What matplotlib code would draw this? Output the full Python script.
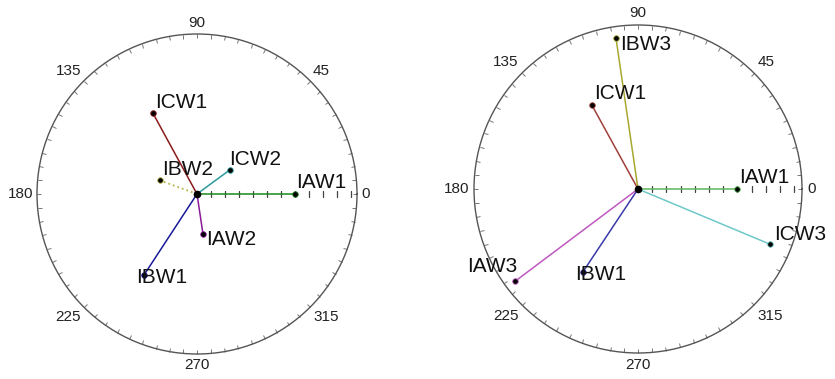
import numpy as np
import matplotlib
matplotlib.use("Agg")
import matplotlib.pyplot as plt

plt.rcParams["font.family"] = ["Liberation Sans", "DejaVu Sans"]

# ---- phasor data: angle in degrees, magnitude in radial-tick units ----
LEFT_NAMES = ["IAW1", "ICW1", "IBW1", "IAW2", "IBW2", "ICW2"]
LEFT_ANGLE = [0.0, 118.6, 236.8, 278.5, 159.9, 36.3]
LEFT_MAG = [7.0, 6.56, 6.91, 2.89, 2.84, 2.89]

RIGHT_NAMES = ["IAW1", "ICW1", "IBW1", "IBW3", "IAW3", "ICW3"]
RIGHT_ANGLE = [0.0, 118.8, 236.4, 98.3, 216.9, 337.3]
RIGHT_MAG = [7.0, 6.72, 6.99, 10.77, 10.8, 10.1]

ANGLE_TICKS = [0, 45, 90, 135, 180, 225, 270, 315]
RADIAL_TICKS = list(range(1, 12))

# ---- styling per phasor ----
LEFT_STYLE = {
    "IAW1": dict(color="#1a8a1a", ls="-", off=(1, 6), ha="left"),
    "ICW1": dict(color="#8b1a1a", ls="-", off=(2, 5), ha="left"),
    "IBW1": dict(color="#1a1a99", ls="-", off=(-8, -8), ha="left"),
    "IAW2": dict(color="#8b1a99", ls="-", off=(3, -11), ha="left"),
    "IBW2": dict(color="#b5b54a", ls=":", off=(2, 5), ha="left"),
    "ICW2": dict(color="#2a9a9a", ls="-", off=(0, 5), ha="left"),
}
RIGHT_STYLE = {
    "IAW1": dict(color="#5cb85c", ls="-", off=(2, 6), ha="left"),
    "ICW1": dict(color="#a0403a", ls="-", off=(2, 6), ha="left"),
    "IBW1": dict(color="#3a3aaa", ls="-", off=(-8, -8), ha="left"),
    "IBW3": dict(color="#a8a830", ls="-", off=(4, -12), ha="left"),
    "IAW3": dict(color="#c058c0", ls="-", off=(2, 9), ha="right"),
    "ICW3": dict(color="#70c8c8", ls="-", off=(4, 4), ha="left"),
}


def phasor_axes(fig, rect, rmax, label_gap):
    ax = fig.add_axes(rect, projection="polar")
    ax.set_rlim(0, rmax)
    ax.grid(False)
    ax.set_yticks([])
    ax.set_xticks(np.deg2rad(ANGLE_TICKS))
    ax.set_xticklabels([])
    ax.set_xticks(np.deg2rad(np.arange(0, 360, 5)), minor=True)
    ax.xaxis.set_tick_params(which="both", tick1On=False, tick2On=True)
    ax.tick_params(axis="x", which="both", direction="in", length=3,
                   width=0.7, color="#777777")
    ax.spines["polar"].set_color("#555555")
    ax.spines["polar"].set_linewidth(1.0)

    # angle labels sit just outside the rim, aligned by their nearest edge
    for a in ANGLE_TICKS:
        c, s = np.cos(np.deg2rad(a)), np.sin(np.deg2rad(a))
        ha = "left" if c > 0.3 else ("right" if c < -0.3 else "center")
        va = "bottom" if s > 0.3 else ("top" if s < -0.3 else "center")
        ax.annotate(str(a), (np.deg2rad(a), rmax),
                    xytext=(label_gap * c, label_gap * s),
                    textcoords="offset pixels", ha=ha, va=va,
                    fontsize=11, color="#222222", annotation_clip=False)

    # radial scale ticks along the 0 deg direction
    ax.plot(np.zeros(len(RADIAL_TICKS)), RADIAL_TICKS, ls="none", marker="|",
            ms=4, mew=0.9, color="#444444", zorder=2)
    return ax


def draw_phasors(ax, names, angles, mags, styles):
    for name, ang, mag in zip(names, angles, mags):
        st = styles[name]
        th = np.deg2rad(ang)
        ax.plot([0, th], [0, mag], color=st["color"], ls=st["ls"],
                lw=1.1 if st["ls"] == "-" else 1.3, zorder=3)
        ax.plot([th], [mag], marker="o", ms=4, color="black",
                mec=st["color"], mew=0.6, zorder=4)
        ax.annotate(name, (th, mag), xytext=st["off"], textcoords="offset pixels",
                    ha=st["ha"], va="baseline", fontsize=15, color="#111111",
                    zorder=5)
    ax.plot([0], [0], marker="o", ms=4.5, color="black", zorder=5)


fig = plt.figure(figsize=(8.35, 3.79), dpi=100)

axl = phasor_axes(fig, [37 / 835, 25 / 379, 320 / 835, 320 / 379], 11.43, 4)
draw_phasors(axl, LEFT_NAMES, LEFT_ANGLE, LEFT_MAG, LEFT_STYLE)

axr = phasor_axes(fig, [474 / 835, 26 / 379, 328 / 835, 328 / 379], 11.55, 5)
draw_phasors(axr, RIGHT_NAMES, RIGHT_ANGLE, RIGHT_MAG, RIGHT_STYLE)

fig.savefig("out.png", dpi=100)
